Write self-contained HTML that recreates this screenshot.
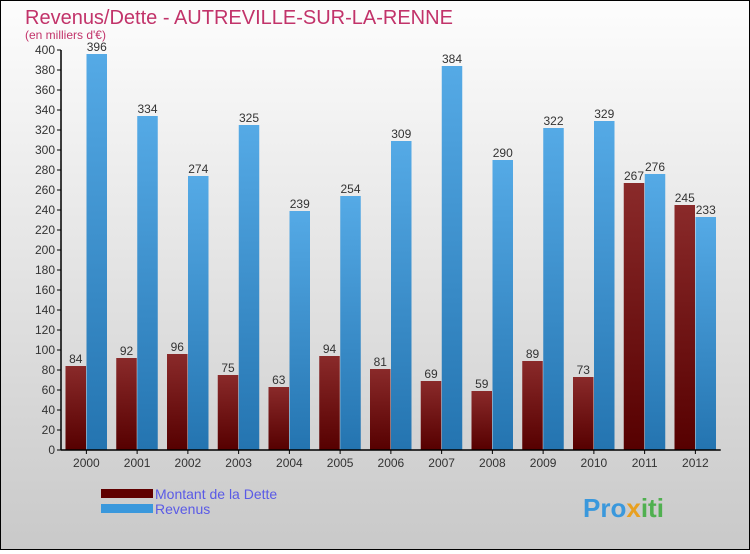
<!DOCTYPE html>
<html><head><meta charset="utf-8"><style>
html,body{margin:0;padding:0}
body{width:750px;height:550px;overflow:hidden;font-family:"Liberation Sans",sans-serif}
#wrap{position:relative;width:748px;height:548px;border:1px solid #000;background:linear-gradient(#fdfdfd,#c9c9c9)}
</style></head><body>
<div id="wrap">
<svg id="chart" width="748" height="548">
<defs>
<linearGradient id="gD" x1="0" y1="0" x2="0" y2="1"><stop offset="0" stop-color="#8a2a2a"/><stop offset="1" stop-color="#560000"/></linearGradient>
<linearGradient id="gR" x1="0" y1="0" x2="0" y2="1"><stop offset="0" stop-color="#55aae6"/><stop offset="1" stop-color="#2474b0"/></linearGradient>
</defs>
<text x="24" y="23" font-size="20" fill="#c2336a">Revenus/Dette - AUTREVILLE-SUR-LA-RENNE</text>
<text x="24" y="38" font-size="12" fill="#c2336a">(en milliers d'€)</text>
<g id="plot"></g>
<rect x="100" y="488" width="52" height="9" fill="#600000"/>
<rect x="100" y="503" width="52" height="9" fill="#3a98dc"/>
<text x="154" y="498" font-size="14" fill="#5a5ae6">Montant de la Dette</text>
<text x="154" y="513" font-size="14" fill="#5a5ae6">Revenus</text>
<text x="582" y="516" font-size="26" font-weight="bold" fill="#3a98dc">Pro<tspan fill="#e8a020">x</tspan><tspan fill="#50b050">iti</tspan></text>
</svg>
</div>
<script>
const years=["2000","2001","2002","2003","2004","2005","2006","2007","2008","2009","2010","2011","2012"];
const dette=[84,92,96,75,63,94,81,69,59,89,73,267,245];
const revenus=[396,334,274,325,239,254,309,384,290,322,329,276,233];
const yTicks=[0,20,40,60,80,100,120,140,160,180,200,220,240,260,280,300,320,340,360,380,400];
const NS="http://www.w3.org/2000/svg";
const g=document.getElementById('plot');
const x0=60,band=50.75,y0=449,yMax=400,yH=400;
const Y=v=>y0-v/yMax*yH;
const X=i=>x0+i*band;
function mk(t,a){const e=document.createElementNS(NS,t);for(const k in a)e.setAttribute(k,a[k]);g.appendChild(e);return e;}
yTicks.forEach(v=>{
 const l=mk('line',{x1:x0-4,x2:x0,y1:Y(v),y2:Y(v),stroke:'#000'});
 
 
 const t=mk('text',{x:x0-6,y:Y(v)+4,'font-size':12,'text-anchor':'end',fill:'#333'});
 t.textContent=v;
 
 
});
years.forEach((yr,i)=>{
 const bx=X(i)+4.5,w=20.5;
 const d=mk('rect',{x:bx,y:Y(dette[i]),width:w,height:y0-Y(dette[i]),fill:'url(#gD)'});
 
 
 const r=mk('rect',{x:bx+w+0.5,y:Y(revenus[i]),width:w,height:y0-Y(revenus[i]),fill:'url(#gR)'});
 
 
 const td=mk('text',{x:bx+w/2,y:Y(dette[i])-3,'font-size':12,'text-anchor':'middle',fill:'#333'});
 td.textContent=dette[i];
 
 
 const tr=mk('text',{x:bx+w*1.5+0.5,y:Y(revenus[i])-3,'font-size':12,'text-anchor':'middle',fill:'#333'});
 tr.textContent=revenus[i];
 
 
 const tk=mk('line',{x1:X(i)+band/2,x2:X(i)+band/2,y1:y0,y2:y0+4,stroke:'#000'});
 
 
 const tx=mk('text',{x:X(i)+band/2,y:y0+17,'font-size':12,'text-anchor':'middle',fill:'#333'});
 tx.textContent=yr;
 
 
});
const ax=mk('line',{x1:x0,x2:x0,y1:Y(400),y2:y0,stroke:'#000','stroke-width':1.5});


const xa=mk('line',{x1:x0,x2:X(13),y1:y0,y2:y0,stroke:'#000','stroke-width':1.5});


</script>
</body></html>
